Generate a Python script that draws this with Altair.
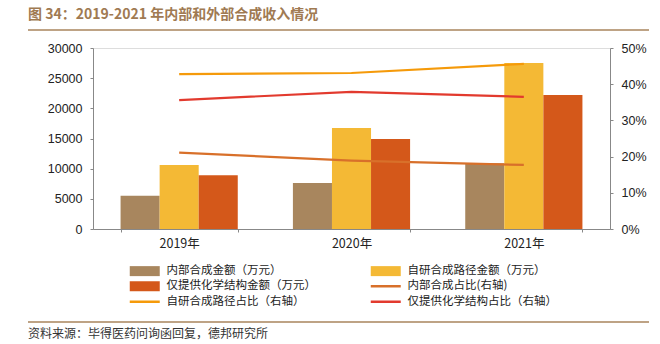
import altair as alt
import pandas as pd

years = ["2019年", "2020年", "2021年"]
internal_amt = [5520, 7620, 10890]
selfdev_amt = [10610, 16740, 27510]
structure_amt = [8900, 14920, 22210]
internal_pct = [0.211, 0.189, 0.177]
selfdev_pct = [0.428, 0.431, 0.456]
structure_pct = [0.356, 0.379, 0.365]

bar_series = ["内部合成金额（万元）", "自研合成路径金额（万元）", "仅提供化学结构金额（万元）"]
line_series = ["内部合成占比(右轴)", "自研合成路径占比（右轴）", "仅提供化学结构占比（右轴）"]
all_series = [bar_series[0], bar_series[1], bar_series[2], line_series[0], line_series[1], line_series[2]]
colors = ["#a8865e", "#f4b935", "#d4581a", "#d8702a", "#f59a0a", "#e23a2e"]

title_text = "图 34：2019-2021 年内部和外部合成收入情况"
source_text = "资料来源：毕得医药问询函回复，德邦研究所"

bars = pd.DataFrame(
    [{"year": y, "series": s, "value": v}
     for s, vals in zip(bar_series, [internal_amt, selfdev_amt, structure_amt])
     for y, v in zip(years, vals)]
)
lines = pd.DataFrame(
    [{"year": y, "series": s, "value": v}
     for s, vals in zip(line_series, [internal_pct, selfdev_pct, structure_pct])
     for y, v in zip(years, vals)]
)
legend_df = pd.DataFrame({"series": all_series})

BAR_PATH = "M-3,-1H3V1H-3Z"
LINE_PATH = "M-3,-0.25H3V0.25H-3Z"

x_scale = alt.Scale(type="band", paddingInner=0.32, paddingOuter=0.16)
CJK = "Noto Sans CJK SC"
LAT = "Liberation Sans"

x_enc = alt.X(
    "year:N", sort=years, scale=x_scale, title=None,
    axis=alt.Axis(labelAngle=0, labelFont=CJK, labelFontSize=12.5, labelColor="#222",
                  domainColor="#888", tickColor="#888", tickSize=3, tickBand="extent",
                  labelPadding=5),
)

bar_layer = alt.Chart(bars).mark_bar().encode(
    x=x_enc,
    xOffset=alt.XOffset("series:N", sort=bar_series, scale=alt.Scale(paddingInner=0, paddingOuter=0)),
    y=alt.Y("value:Q", title=None,
            scale=alt.Scale(domain=[0, 30000], nice=False),
            axis=alt.Axis(values=[0, 5000, 10000, 15000, 20000, 25000, 30000], format="d",
                          grid=False, labelFont=LAT, labelFontSize=12.5, labelColor="#222",
                          domainColor="#888", tickColor="#888", tickSize=3, labelPadding=8)),
    fill=alt.Fill("series:N", scale=alt.Scale(domain=bar_series, range=colors[:3]), legend=None),
)

line_layer = alt.Chart(lines).mark_line(strokeWidth=2.2).encode(
    x=x_enc,
    y=alt.Y("value:Q", title=None,
            scale=alt.Scale(domain=[0, 0.5], nice=False),
            axis=alt.Axis(orient="right", values=[0, 0.1, 0.2, 0.3, 0.4, 0.5], format=".0%",
                          grid=False, labelFont=LAT, labelFontSize=12.5, labelColor="#222",
                          domainColor="#888", tickColor="#888", tickSize=3, labelPadding=8)),
    stroke=alt.Stroke("series:N", scale=alt.Scale(domain=line_series, range=colors[3:]), legend=None),
    detail="series:N",
)

leg = alt.Legend(
    title=None, orient="none", direction="horizontal", legendX=46, legendY=217, columns=2,
    columnPadding=54, rowPadding=2.5, symbolOpacity=1, symbolStrokeWidth=0,
    labelFont=CJK, labelFontSize=11.5, labelColor="#222", labelOffset=16,
    symbolOffset=0,
)

legend_layer = alt.Chart(legend_df).mark_point(filled=True, size=100, opacity=0).encode(
    x=alt.value(0),
    y=alt.value(0),
    color=alt.Color("series:N", sort=all_series,
                    scale=alt.Scale(domain=all_series, range=colors), legend=leg),
    shape=alt.Shape(
        "series:N", sort=all_series,
        scale=alt.Scale(domain=all_series,
                        range=[BAR_PATH, BAR_PATH, BAR_PATH, LINE_PATH, LINE_PATH, LINE_PATH]),
        legend=leg,
    ),
)

title_layer = alt.Chart(pd.DataFrame({"t": [title_text]})).mark_text(
    align="left", baseline="middle", font=CJK, fontSize=14, fontWeight="bold", color="#a07a52"
).encode(x=alt.value(-65), y=alt.value(-33), text="t:N")

source_layer = alt.Chart(pd.DataFrame({"t": [source_text]})).mark_text(
    align="left", baseline="middle", font=CJK, fontSize=12, color="#333"
).encode(x=alt.value(-65), y=alt.value(286), text="t:N")

top_rule = alt.Chart(pd.DataFrame({"a": [0]})).mark_rule(color="#a8845c", strokeWidth=1.6).encode(
    x=alt.value(-65), x2=alt.value(556), y=alt.value(-18)
)
bottom_rule = alt.Chart(pd.DataFrame({"a": [0]})).mark_rule(color="#a8845c", strokeWidth=1.6).encode(
    x=alt.value(-65), x2=alt.value(556), y=alt.value(274)
)

chart = alt.layer(
    bar_layer, line_layer, legend_layer, title_layer, source_layer, top_rule, bottom_rule
).resolve_scale(y="independent").properties(
    width=517, height=181,
    autosize=alt.AutoSizeParams(type="none"),
    padding={"left": 93, "top": 48, "right": 50, "bottom": 115},
).configure_view(stroke=None).configure(background="white")

chart.save("out.html", embed_options={"renderer": "svg", "actions": False})
